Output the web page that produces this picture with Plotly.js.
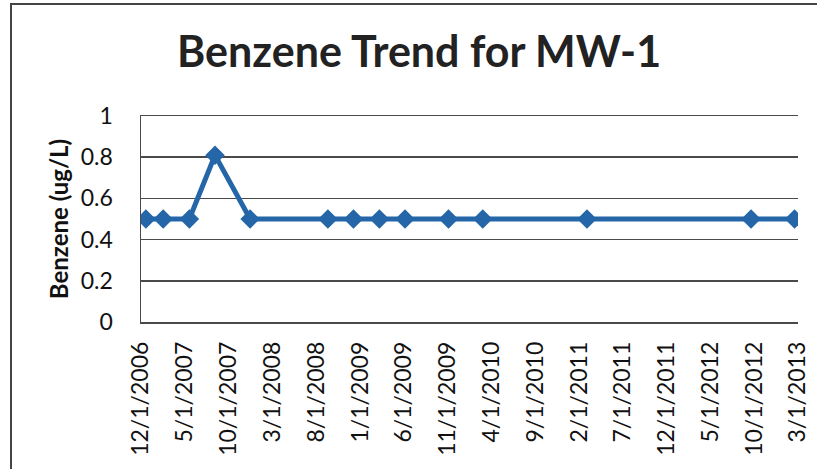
<!DOCTYPE html>
<html>
<head>
<meta charset="utf-8">
<script src="https://cdn.plot.ly/plotly-3.0.1.min.js"></script>
<style>
  html, body { margin: 0; padding: 0; background: #fff; }
  #chart { width: 817px; height: 469px; }
  #frame { position: absolute; left: 10px; top: 3px; width: 807px; height: 466px;
           border-left: 2px solid #444; border-top: 2px solid #444; pointer-events: none; }
</style>
</head>
<body>
<div id="chart"></div>
<div id="frame"></div>
<script>
// Sample dates and benzene concentrations (ug/L)
const sampleDates = [
  '2006-12-18', '2007-02-16', '2007-05-18', '2007-08-15', '2007-12-15',
  '2008-09-10', '2008-12-08', '2009-03-08', '2009-06-05', '2009-11-03',
  '2010-03-02', '2011-02-27', '2012-09-19', '2013-02-17'
];
const benzene = [0.5, 0.5, 0.5, 0.81, 0.5, 0.5, 0.5, 0.5, 0.5, 0.5, 0.5, 0.5, 0.5, 0.5];

// X-axis tick dates (every 5 months) and labels
const tickDates = [
  '2006-12-01', '2007-05-01', '2007-10-01', '2008-03-01', '2008-08-01', '2009-01-01',
  '2009-06-01', '2009-11-01', '2010-04-01', '2010-09-01', '2011-02-01', '2011-07-01',
  '2011-12-01', '2012-05-01', '2012-10-01', '2013-03-01'
];
const tickLabels = [
  '12/1/2006', '5/1/2007', '10/1/2007', '3/1/2008', '8/1/2008', '1/1/2009',
  '6/1/2009', '11/1/2009', '4/1/2010', '9/1/2010', '2/1/2011', '7/1/2011',
  '12/1/2011', '5/1/2012', '10/1/2012', '3/1/2013'
];

const lineColor = '#2466A8';

Plotly.newPlot('chart', [{
  x: sampleDates,
  y: benzene,
  type: 'scatter',
  mode: 'lines+markers',
  line: { color: lineColor, width: 5 },
  marker: { symbol: 'diamond', size: 15, color: lineColor },
  showlegend: false
}], {
  width: 817,
  height: 469,
  margin: { l: 141, r: 19, t: 116, b: 147 },
  paper_bgcolor: '#ffffff',
  plot_bgcolor: '#ffffff',
  font: { family: 'Lato, "Open Sans", sans-serif', color: '#111' },
  title: {
    text: '<b>Benzene Trend for MW-1</b>',
    font: { size: 43, color: '#222', family: 'Lato, sans-serif' },
    xref: 'container', yref: 'container',
    x: 0.513, xanchor: 'center',
    y: 0.89, yanchor: 'middle'
  },
  xaxis: {
    type: 'date',
    range: ['2006-12-01', '2013-03-01'],
    tickmode: 'array',
    tickvals: tickDates,
    ticktext: tickLabels,
    tickangle: -90,
    tickfont: { size: 23, color: '#111' },
    ticklabelstandoff: 9,
    showgrid: false,
    showline: true,
    mirror: true,
    linecolor: '#4a4a4a',
    linewidth: 1.5,
    ticks: '',
    zeroline: false,
    fixedrange: true
  },
  yaxis: {
    range: [0, 1],
    tickmode: 'array',
    tickvals: [0, 0.2, 0.4, 0.6, 0.8, 1],
    ticktext: ['0', '0.2', '0.4', '0.6', '0.8', '1'],
    tickfont: { size: 23, color: '#111' },
    ticklabelstandoff: 22,
    showgrid: true,
    gridcolor: '#4a4a4a',
    gridwidth: 1.5,
    showline: true,
    linecolor: '#4a4a4a',
    linewidth: 1.5,
    zeroline: false,
    ticks: '',
    title: {
      text: '<b>Benzene (ug/L)</b>',
      font: { size: 24, color: '#111' },
      standoff: 5
    },
    automargin: false,
    fixedrange: true
  }
}, { displayModeBar: false, staticPlot: true });
</script>
</body>
</html>
